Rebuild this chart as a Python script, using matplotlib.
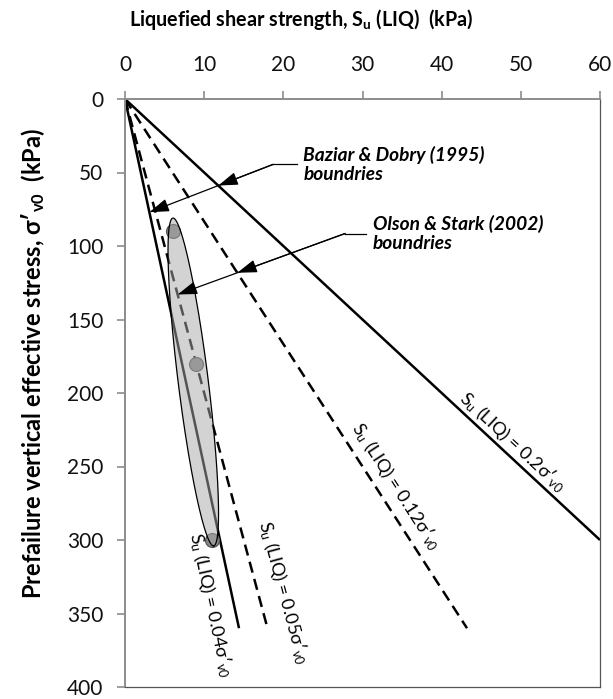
import numpy as np
import matplotlib.pyplot as plt

plt.rcParams['font.family'] = ['Lato', 'DejaVu Sans']
plt.rcParams['mathtext.fontset'] = 'custom'
plt.rcParams['mathtext.rm'] = 'Lato'
plt.rcParams['mathtext.it'] = 'Lato:italic'
plt.rcParams['mathtext.bf'] = 'Lato:bold'

# Su(LIQ) = ratio * sigma'v0 boundary lines
ratios = [0.2, 0.12, 0.05, 0.04]
line_end_stress = [300, 360, 360, 360]
line_dashed = [False, True, True, False]
ratio_labels = ['0.2', '0.12', '0.05', '0.04']
label_xy = [(49.0, 233), (34.3, 263), (20.1, 336), (10.9, 344)]

# case history points and the Olson & Stark envelope
case_su = [6, 9, 11]
case_stress = [90, 180, 300]
env_su = [6.05, 11.2]
env_stress = [81, 304]
env_half_width = 1.9

# annotation leaders: corner, end of the horizontal stub, arrow tip stress
notes = ['Baziar & Dobry (1995)\nboundries', 'Olson & Stark (2002)\nboundries']
note_corner = [(18.7, 44.5), (27.8, 91.5)]
note_stub_end = [21.7, 30.5]
note_tip_stress = [77, 133]
note_tip_ratio = [0.04, 0.05]
note_mid_ratio = [0.2, 0.12]

fig = plt.figure(figsize=(6.13, 6.99), dpi=100)
ax = fig.add_axes([125 / 613, 1 - 687 / 699, 475 / 613, 588 / 699])
ax.set_xlim(0, 60)
ax.set_ylim(400, 0)
ax.xaxis.tick_top()
ax.set_xticks(np.arange(0, 61, 10))
ax.set_yticks(np.arange(0, 401, 50))
ax.tick_params(axis='both', direction='out', length=5.5, width=1.2,
               color='#8c8c8c', labelsize=15, labelcolor='#111111')
ax.tick_params(axis='x', pad=12)
ax.tick_params(axis='y', pad=10)
for s in ['left', 'top']:
    ax.spines[s].set_color('#8c8c8c')
    ax.spines[s].set_linewidth(1.4)
for s in ['right', 'bottom']:
    ax.spines[s].set_color('#555555')
    ax.spines[s].set_linewidth(0.9)

for k, smax, dashed in zip(ratios, line_end_stress, line_dashed):
    st = np.array([0, smax])
    ln, = ax.plot(k * st, st, color='black', lw=1.8, zorder=2,
                  solid_capstyle='butt')
    if dashed:
        ln.set_dashes([4.5, 2.6])

fig.canvas.draw()
trans = ax.transData

def screen_angle(k):
    p0 = trans.transform((0, 0))
    p1 = trans.transform((k * 100, 100))
    return np.degrees(np.arctan2(p1[1] - p0[1], p1[0] - p0[0]))

for k, lab, (lx, ly) in zip(ratios, ratio_labels, label_xy):
    ax.text(lx, ly, r'S$_\mathregular{u}$ (LIQ) = ' + lab + 'σ′$_\mathregular{v0}$',
            rotation=screen_angle(k), rotation_mode='anchor',
            ha='center', va='center', fontsize=13, zorder=6)

# case points sit under the translucent envelope
ax.scatter(case_su, case_stress, s=100, color='#8a8a8a', edgecolor='#555555',
           linewidth=0.9, zorder=3)

p1 = trans.transform((env_su[0], env_stress[0]))
p2 = trans.transform((env_su[1], env_stress[1]))
c = (p1 + p2) / 2
u = (p2 - p1) / np.linalg.norm(p2 - p1)
n = np.array([-u[1], u[0]])
a = np.linalg.norm(p2 - p1) / 2
b = (trans.transform((env_su[0] + env_half_width, 0)) - trans.transform((env_su[0], 0)))[0]
t = np.linspace(0, 2 * np.pi, 300)
pts = c + np.outer(a * np.cos(t), u) + np.outer(b * np.sin(t), n)
env = trans.inverted().transform(pts)
ax.fill(env[:, 0], env[:, 1], color='#a8a8a8', alpha=0.5, lw=0, zorder=4)
ax.plot(env[:, 0], env[:, 1], color='black', lw=0.9, zorder=4)

arrow_kw = dict(arrowstyle='-|>,head_length=0.6,head_width=0.2',
                mutation_scale=20, color='black', lw=0.9,
                shrinkA=0, shrinkB=0)
for txt, (cx, cy), sx, ts, kt, km in zip(notes, note_corner, note_stub_end,
                                         note_tip_stress, note_tip_ratio, note_mid_ratio):
    tip = (kt * ts, ts)
    dx, dy = tip[0] - cx, tip[1] - cy
    f = (km * cy - cx) / (dx - km * dy)
    mid = (cx + f * dx, cy + f * dy)
    ax.annotate('', xy=tip, xytext=(cx, cy), arrowprops=arrow_kw, zorder=5)
    ax.annotate('', xy=mid, xytext=(cx, cy), arrowprops=arrow_kw, zorder=5)
    ax.plot([cx, sx], [cy, cy], color='black', lw=0.9, zorder=5)
    ax.text(sx + 0.8, cy, txt, ha='left', va='center', fontsize=13.8,
            fontweight='bold', fontstyle='italic', linespacing=1.1, zorder=6)

fig.text(301 / 613, 1 - 20 / 699,
         r'Liquefied shear strength, S$_\mathbf{u}$ (LIQ)  (kPa)',
         ha='center', va='center', fontsize=14.2, fontweight='bold')
fig.text(33 / 613, 1 - 364 / 699,
         r'Prefailure vertical effective stress, σ′$_\mathbf{v0}$  (kPa)',
         ha='center', va='center', rotation=90, fontsize=17, fontweight='bold')

fig.savefig('out.png', dpi=100)
